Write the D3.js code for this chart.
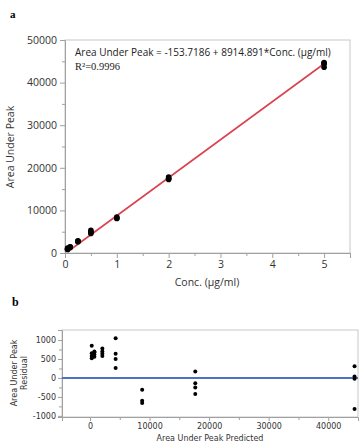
<!DOCTYPE html>
<html>
<head>
<meta charset="utf-8">
<script src="https://cdn.jsdelivr.net/npm/d3@7"></script>
<style>
  body { margin: 0; background: #fff; }
  svg { display: block; }
  .tick text { fill: #333; }
</style>
</head>
<body>
<div id="chart"></div>
<script>
/* data */
var conc = [0.05, 0.05, 0.05, 0.05, 0.1, 0.1, 0.1, 0.1, 0.25, 0.25, 0.25, 0.25,
            0.5, 0.5, 0.5, 0.5, 1, 1, 1, 2, 2, 2, 2, 5, 5, 5, 5];
var area = [1142, 942, 872, 812, 1438, 1358, 1298, 1418, 2855, 2775, 2715, 2655,
            5354, 4944, 4804, 4564, 8451, 8161, 8101, 17846, 17536, 17426, 17256,
            44731, 44461, 44401, 43601];
var intercept = -153.7186, slope = 8914.891;
var topTicksX = [0, 1, 2, 3, 4, 5];
var topTicksY = [0, 10000, 20000, 30000, 40000, 50000];
var resTicksX = [0, 10000, 20000, 30000, 40000];
var resTicksY = [-1000, -500, 0, 500, 1000];

var W = 364, H = 444;
var svg = d3.select("#chart").append("svg").attr("width", W).attr("height", H);

// ---- panel a ----
var x1 = d3.scaleLinear().domain([0, 5.5]).range([65, 350]);
var y1 = d3.scaleLinear().domain([0, 50000]).range([253, 40]);

svg.append("text").attr("x", 10).attr("y", 18).attr("font-family", "Liberation Serif")
  .attr("font-weight", "bold").attr("font-size", 11).text("a");

svg.append("rect").attr("x", 65).attr("y", 40).attr("width", 285).attr("height", 213)
  .attr("fill", "none").attr("stroke", "#c8c8c8");

function styleAxis(g, fs, fam) {
  g.select(".domain").attr("stroke", "#a0a0a0");
  g.selectAll(".tick line").attr("stroke", "#a0a0a0");
  g.selectAll(".tick text").attr("font-size", fs).attr("font-family", fam);
}

var gx1 = svg.append("g").attr("transform", "translate(0,253)")
  .call(d3.axisBottom(x1).tickValues(topTicksX).tickSize(5).tickPadding(3).tickFormat(d3.format("d")));
styleAxis(gx1, 10.5, "Open Sans");
svg.append("g").attr("transform", "translate(0,253)")
  .call(d3.axisBottom(x1).tickValues(d3.range(0.5, 5.6, 1)).tickSize(3).tickFormat(""))
  .call(function(g) { g.select(".domain").remove(); g.selectAll("line").attr("stroke", "#a0a0a0"); });

var gy1 = svg.append("g").attr("transform", "translate(65,0)")
  .call(d3.axisLeft(y1).tickValues(topTicksY).tickSize(5).tickPadding(3).tickFormat(d3.format("d")));
styleAxis(gy1, 10.5, "Open Sans");
svg.append("g").attr("transform", "translate(65,0)")
  .call(d3.axisLeft(y1).tickValues(d3.range(5000, 50000, 10000)).tickSize(3).tickFormat(""))
  .call(function(g) { g.select(".domain").remove(); g.selectAll("line").attr("stroke", "#a0a0a0"); });

svg.append("text").attr("transform", "translate(14,147) rotate(-90)").attr("text-anchor", "middle")
  .attr("font-family", "Open Sans").attr("font-size", 10.5).attr("fill", "#333").text("Area Under Peak");
svg.append("text").attr("x", 207).attr("y", 286).attr("text-anchor", "middle")
  .attr("font-family", "Open Sans").attr("font-size", 10.5).attr("fill", "#333").text("Conc. (µg/ml)");

var fitLine = d3.line().x(function(d) { return x1(d); }).y(function(d) { return y1(intercept + slope * d); });
svg.append("path").attr("d", fitLine([0.05, 5])).attr("stroke", "#d9434f").attr("stroke-width", 1.6).attr("fill", "none");

svg.append("g").selectAll("circle").data(conc).enter().append("circle")
  .attr("cx", function(d) { return x1(d); })
  .attr("cy", function(d, i) { return y1(area[i]); })
  .attr("r", 2.8).attr("fill", "#000");

svg.append("text").attr("x", 75).attr("y", 56).attr("font-family", "Open Sans").attr("font-size", 10)
  .attr("fill", "#222").text("Area Under Peak = -153.7186 + 8914.891*Conc. (µg/ml)");
svg.append("text").attr("x", 75).attr("y", 70).attr("font-family", "Liberation Serif").attr("font-size", 10.5)
  .attr("fill", "#222").text("R²=0.9996");

// ---- panel b ----
var x2 = d3.scaleLinear().domain([-4700, 45000]).range([62, 358]);
var y2 = d3.scaleLinear().domain([-1030, 1265]).range([417, 330]);

svg.append("text").attr("x", 12).attr("y", 306).attr("font-family", "Liberation Serif")
  .attr("font-weight", "bold").attr("font-size", 12).text("b");

svg.append("rect").attr("x", 62).attr("y", 330).attr("width", 296).attr("height", 87)
  .attr("fill", "none").attr("stroke", "#c8c8c8");

var gx2 = svg.append("g").attr("transform", "translate(0,417)")
  .call(d3.axisBottom(x2).tickValues(resTicksX).tickSize(4).tickPadding(2).tickFormat(d3.format("d")));
styleAxis(gx2, 8, "DejaVu Sans");
svg.append("g").attr("transform", "translate(0,417)")
  .call(d3.axisBottom(x2).tickValues(d3.range(5000, 45000, 10000)).tickSize(3).tickFormat(""))
  .call(function(g) { g.select(".domain").remove(); g.selectAll("line").attr("stroke", "#a0a0a0"); });

var gy2 = svg.append("g").attr("transform", "translate(62,0)")
  .call(d3.axisLeft(y2).tickValues(resTicksY).tickSize(4).tickPadding(2).tickFormat(d3.format("d")));
styleAxis(gy2, 8, "DejaVu Sans");
gy2.selectAll(".tick text").text(function(d) { return d < 0 ? "-" + Math.abs(d) : d; });
svg.append("g").attr("transform", "translate(62,0)")
  .call(d3.axisLeft(y2).tickValues(d3.range(-750, 1250, 500)).tickSize(3).tickFormat(""))
  .call(function(g) { g.select(".domain").remove(); g.selectAll("line").attr("stroke", "#a0a0a0"); });

svg.append("text").attr("transform", "translate(17,373) rotate(-90)").attr("text-anchor", "middle")
  .attr("font-family", "DejaVu Sans").attr("font-size", 8).attr("fill", "#333").text("Area Under Peak");
svg.append("text").attr("transform", "translate(27,373) rotate(-90)").attr("text-anchor", "middle")
  .attr("font-family", "DejaVu Sans").attr("font-size", 8).attr("fill", "#333").text("Residual");
svg.append("text").attr("x", 210).attr("y", 441).attr("text-anchor", "middle")
  .attr("font-family", "DejaVu Sans").attr("font-size", 8).attr("fill", "#333").text("Area Under Peak Predicted");

svg.append("line").attr("x1", 62).attr("x2", 358).attr("y1", y2(0)).attr("y2", y2(0))
  .attr("stroke", "#4a72c4").attr("stroke-width", 2);

svg.append("g").selectAll("circle").data(conc).enter().append("circle")
  .attr("cx", function(d) { return x2(intercept + slope * d); })
  .attr("cy", function(d, i) { return y2(area[i] - (intercept + slope * d)); })
  .attr("r", 2).attr("fill", "#000");
</script>
</body>
</html>
